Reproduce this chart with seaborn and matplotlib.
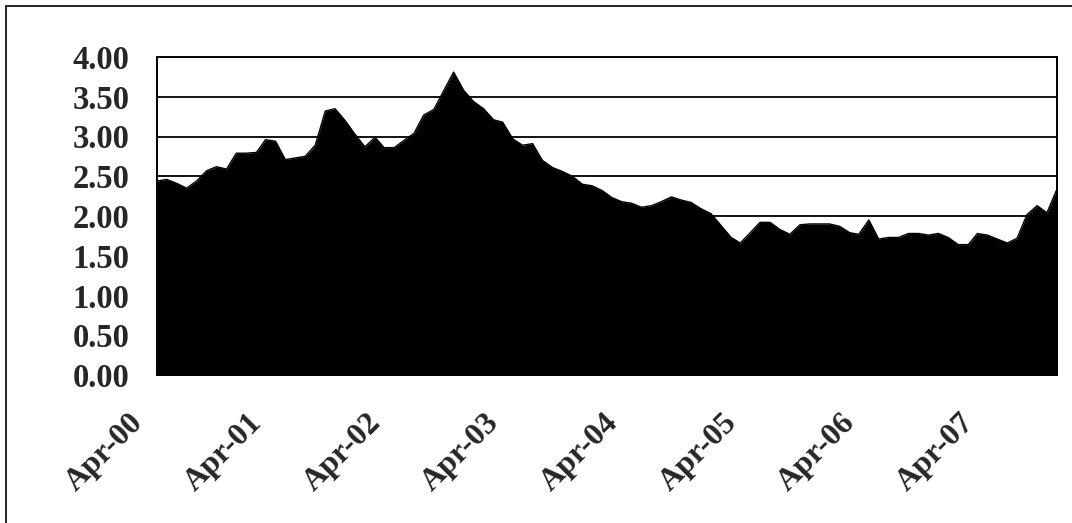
import matplotlib
matplotlib.use("Agg")
import matplotlib.pyplot as plt
import matplotlib.transforms as mtransforms
from matplotlib.patches import Rectangle
import seaborn as sns
import pandas as pd

# monthly values, Apr-2000 .. Nov-2007
start_month = "2000-04-01"
values = [
    2.44, 2.46, 2.41, 2.35, 2.44, 2.57, 2.62, 2.59, 2.79, 2.79, 2.80, 2.96,
    2.94, 2.71, 2.73, 2.75, 2.89, 3.32, 3.35, 3.20, 3.03, 2.87, 2.99, 2.86,
    2.86, 2.95, 3.04, 3.27, 3.34, 3.58, 3.81, 3.58, 3.44, 3.35, 3.21, 3.18,
    2.97, 2.89, 2.91, 2.70, 2.61, 2.56, 2.50, 2.40, 2.38, 2.32, 2.23, 2.18,
    2.16, 2.11, 2.13, 2.18, 2.24, 2.20, 2.17, 2.09, 2.03, 1.88, 1.73, 1.66,
    1.79, 1.92, 1.92, 1.83, 1.77, 1.89, 1.90, 1.90, 1.90, 1.87, 1.79, 1.77,
    1.95, 1.71, 1.73, 1.73, 1.78, 1.78, 1.76, 1.78, 1.73, 1.64, 1.64, 1.78,
    1.76, 1.71, 1.66, 1.72, 2.02, 2.13, 2.04, 2.34,
]
tick_years = [2000, 2001, 2002, 2003, 2004, 2005, 2006, 2007]
tick_labels = ["Apr-00", "Apr-01", "Apr-02", "Apr-03", "Apr-04", "Apr-05", "Apr-06", "Apr-07"]
y_ticks = [0.0, 0.5, 1.0, 1.5, 2.0, 2.5, 3.0, 3.5, 4.0]

df = pd.DataFrame({
    "month": pd.date_range(start_month, periods=len(values), freq="MS"),
    "value": values,
})

sns.set_theme(style="white")
plt.rcParams["font.family"] = ["Liberation Serif", "DejaVu Serif"]

fig = plt.figure(figsize=(10.72, 5.23), dpi=100)
ax = fig.add_axes([157 / 1072, 1 - 375 / 523, 900 / 1072, 318 / 523])

# outer frame
fig.patches.append(Rectangle((6 / 1072, -0.1), 1.2, 1 - 6 / 523 + 0.1,
                             transform=fig.transFigure, fill=False,
                             edgecolor="black", linewidth=1.2))

sns.lineplot(data=df, x="month", y="value", color="black", linewidth=1, ax=ax, zorder=3)
ax.fill_between(df["month"], 0, df["value"], color="black", linewidth=0, zorder=3)

for y in y_ticks[1:]:
    ax.axhline(y, color="black", linewidth=1.3, zorder=1)

ax.set_xlim(df["month"].iloc[0], df["month"].iloc[-1])
ax.set_ylim(0, 4)
ax.tick_params(axis="y", direction="out", length=14, width=1.2, color="black", pad=6)
ax.tick_params(axis="x", direction="out", length=8, width=1.2, color="black", pad=4)
ax.set_yticks(y_ticks)
ax.set_yticklabels([f"{v:.2f}" for v in y_ticks], fontsize=23.5, fontweight="bold")
ax.set_xticks([pd.Timestamp(f"{yr}-04-01") for yr in tick_years])
ax.set_xticklabels(tick_labels, fontsize=23, fontweight="bold", rotation=45,
                   ha="right", va="top", rotation_mode="anchor")
# shift the slanted labels down-left, as in the original
offset = mtransforms.ScaledTranslation(-28 / 100, -17 / 100, fig.dpi_scale_trans)
for lab in ax.get_xticklabels():
    lab.set_transform(lab.get_transform() + offset)

ax.set_xlabel("")
ax.set_ylabel("")
for side in ["left", "right", "top", "bottom"]:
    ax.spines[side].set_color("black")
    ax.spines[side].set_linewidth(1.4)

fig.savefig("out.png", dpi=100, facecolor="white")
plt.close(fig)
